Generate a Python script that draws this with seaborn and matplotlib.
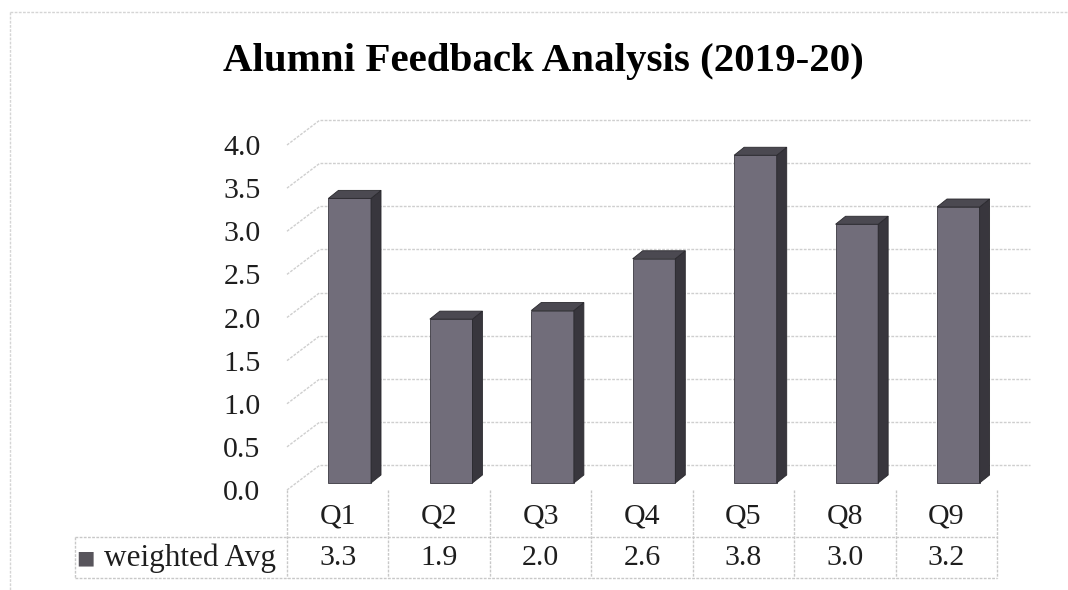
"""
Alumni Feedback Analysis (2019-20) - barras com efeito 3D e tabela de dados.
"""
import matplotlib.pyplot as plt
from matplotlib.patches import Polygon
import matplotlib.transforms as mtransforms
import seaborn as sns

questoes = ['Q1', 'Q2', 'Q3', 'Q4', 'Q5', 'Q8', 'Q9']
media_ponderada = [3.3, 1.9, 2.0, 2.6, 3.8, 3.0, 3.2]
nome_serie = 'weighted Avg'
titulo = 'Alumni Feedback Analysis (2019-20)'
ticks_y = [0.0, 0.5, 1.0, 1.5, 2.0, 2.5, 3.0, 3.5, 4.0]

COR_FRENTE = '#716d7a'
COR_LADO = '#38363d'
COR_TOPO = '#4b4951'
COR_GRADE = '#cfcfcf'
COR_TABELA = '#c8c8c8'
COR_TEXTO = '#1e1e1e'
PONTILHADO = (0, (2, 1))

sns.set_theme(style='white')
plt.rcParams['font.family'] = ['Liberation Serif', 'DejaVu Sans']

W, H = 1068, 590
fig = plt.figure(figsize=(W / 100, H / 100), dpi=100)
fig.patch.set_facecolor('white')

# camada em pixels para moldura e tabela
lay = fig.add_axes([0, 0, 1, 1])
lay.set_xlim(0, W)
lay.set_ylim(H, 0)
lay.axis('off')

# área do gráfico (plano frontal)
x0, x1, yb, yt = 287, 997, 490, 145
ax = fig.add_axes([x0 / W, 1 - yb / H, (x1 - x0) / W, (yb - yt) / H])
ax.set_xlim(-0.5, len(questoes) - 0.5)
ax.set_ylim(0, 4)
px_x = (x1 - x0) / len(questoes)
px_y = (yb - yt) / 4.0

# profundidade em unidades de dados
fundo_dx, fundo_dy = 33 / px_x, 25 / px_y
barra_dx, barra_dy = 12 / px_x, 7 / px_y
prof_dx, prof_dy = 10 / px_x, 8 / px_y

# parede do fundo: grade + conectores diagonais
xa, xb = ax.get_xlim()
for v in ticks_y:
    ax.plot([xa + fundo_dx, xb + fundo_dx], [v + fundo_dy, v + fundo_dy],
            color=COR_GRADE, lw=1, ls=PONTILHADO, clip_on=False, zorder=1)
    ax.plot([xa, xa + fundo_dx], [v, v + fundo_dy],
            color=COR_GRADE, lw=1, ls=PONTILHADO, clip_on=False, zorder=1)

sns.barplot(x=questoes, y=media_ponderada, color=COR_FRENTE, width=0.42,
            saturation=1, ax=ax, zorder=3)

for p in ax.patches:
    p.set_x(p.get_x() + barra_dx)
    p.set_y(barra_dy)
    p.set_edgecolor('#3a3840')
    p.set_linewidth(0.6)
    p.set_clip_on(False)
    x, w, h = p.get_x(), p.get_width(), p.get_height()
    y0 = p.get_y()
    lado = Polygon([(x + w, y0), (x + w + prof_dx, y0 + prof_dy),
                    (x + w + prof_dx, y0 + h + prof_dy), (x + w, y0 + h)],
                   closed=True, facecolor=COR_LADO, edgecolor='#2a292e',
                   lw=0.6, zorder=3, clip_on=False)
    topo = Polygon([(x, y0 + h), (x + prof_dx, y0 + h + prof_dy),
                    (x + w + prof_dx, y0 + h + prof_dy), (x + w, y0 + h)],
                   closed=True, facecolor=COR_TOPO, edgecolor='#2a292e',
                   lw=0.6, zorder=3, clip_on=False)
    ax.add_patch(lado)
    ax.add_patch(topo)

ax.set_yticks(ticks_y)
ax.set_yticklabels([f'{v:.1f}' for v in ticks_y], fontsize=21.5, color=COR_TEXTO)
ax.tick_params(axis='y', length=0, pad=19)
ax.set_xticks([])
ax.set_xlabel('')
ax.set_ylabel('')
for s in ax.spines.values():
    s.set_visible(False)
ax.patch.set_alpha(0)

# tabela de dados (colunas alinhadas com as categorias do eixo)
mistura = mtransforms.blended_transform_factory(ax.transData, lay.transData)
y_cab, y_fim = 537, 578
y_val = 558
x_rot = 75
for k in range(len(questoes) + 1):
    xk = k - 0.5
    fig.lines.append(plt.Line2D([xk, xk], [yb, y_fim], transform=mistura,
                                color=COR_TABELA, lw=1, ls=PONTILHADO))
lay.plot([x_rot, x1], [y_cab, y_cab], color=COR_TABELA, lw=1, ls=PONTILHADO)
lay.plot([x_rot, x1], [y_fim, y_fim], color=COR_TABELA, lw=1, ls=PONTILHADO)
lay.plot([x_rot, x_rot], [y_cab, y_fim], color=COR_TABELA, lw=1, ls=PONTILHADO)

for i, (q, v) in enumerate(zip(questoes, media_ponderada)):
    fig.text(i, 516, q, transform=mistura, ha='center', va='center',
             fontsize=21.5, color=COR_TEXTO)
    fig.text(i, y_val, f'{v:.1f}', transform=mistura, ha='center',
             va='center', fontsize=21.5, color=COR_TEXTO)

lay.text(76, y_val, '\u25a0', ha='left', va='center', fontsize=14,
         color='#58555c', family='DejaVu Sans')
lay.text(104, y_val, nome_serie, ha='left', va='center', fontsize=22.5,
         color=COR_TEXTO)

lay.text(543, 62, titulo, ha='center', va='center',
         fontsize=29.5, fontweight='bold', color='black')

# moldura pontilhada do gráfico
lay.plot([10, W], [12, 12], color='#d5d5d5', lw=1, ls=PONTILHADO)
lay.plot([10, 10], [12, H], color='#d5d5d5', lw=1, ls=PONTILHADO)

fig.savefig('out.png', dpi=100)
